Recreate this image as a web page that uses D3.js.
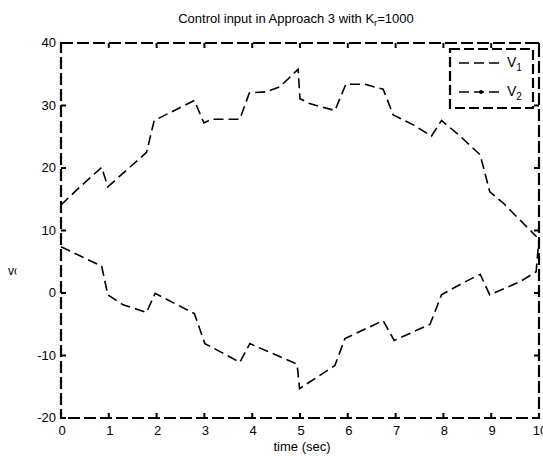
<!DOCTYPE html>
<html>
<head>
<meta charset="utf-8">
<script src="https://d3js.org/d3.v7.min.js"></script>
<style>
  body { margin: 0; background: #fff; }
  text { font-family: "Liberation Sans", Arial, sans-serif; fill: #000; }
</style>
</head>
<body>
<script>
    // upper curve V1
    let v1Time = [0, 0.4, 0.85, 0.98, 1.79, 1.95, 2.79, 2.99, 3.15, 3.74, 3.94, 4.3, 4.58, 4.96, 5.0, 5.2, 5.73, 5.96, 6.36, 6.74, 6.95, 7.37, 7.75, 7.96, 8.35, 8.77, 8.97, 9.25, 9.95];
    let v1Value = [14.1, 17.0, 20.1, 17.0, 22.5, 27.6, 30.8, 27.2, 27.8, 27.8, 32.0, 32.2, 33.0, 35.8, 31.1, 30.3, 29.2, 33.4, 33.4, 32.6, 28.5, 26.9, 25.1, 27.6, 25.1, 22.1, 16.2, 14.4, 9.0];
    // lower curve V2
    let v2Time = [0, 0.85, 0.98, 1.3, 1.79, 1.97, 2.79, 3.01, 3.26, 3.74, 3.95, 4.94, 4.99, 5.73, 5.94, 6.74, 6.97, 7.72, 7.96, 8.38, 8.77, 8.97, 9.6, 9.94, 10];
    let v2Value = [7.4, 4.3, -0.3, -1.9, -3.1, -0.05, -3.3, -8.1, -9.1, -11.1, -8.1, -11.4, -15.3, -11.6, -7.3, -4.4, -7.6, -5.0, -0.3, 1.5, 3.0, -0.3, 1.8, 3.4, 8.8];

    let xTicks = [0, 1, 2, 3, 4, 5, 6, 7, 8, 9, 10];
    let yTicks = [-20, -10, 0, 10, 20, 30, 40];
    let legendNames = ["1", "2"];

    let width = 543, height = 456;
    let plotLeft = 61, plotRight = 539, plotTop = 43, plotBottom = 418;

    let svg = d3.select("body").append("svg")
        .attr("width", width)
        .attr("height", height);

    let x = d3.scaleLinear().domain([0, 10]).range([plotLeft, plotRight]);
    let y = d3.scaleLinear().domain([-20, 40]).range([plotBottom, plotTop]);

    // title
    let title = svg.append("text")
        .attr("x", 296).attr("y", 23)
        .attr("text-anchor", "middle")
        .style("font-size", "13px");
    title.append("tspan").text("Control input in Approach 3 with K");
    title.append("tspan").attr("dy", 3).style("font-size", "9.5px").text("r");
    title.append("tspan").attr("dy", -3).text("=1000");

    // ticks pointing inward on all four sides
    let tickLen = 5;
    let tickG = svg.append("g").attr("stroke", "#000").attr("stroke-width", 2);
    xTicks.forEach(function (t) {
        tickG.append("line").attr("x1", x(t)).attr("x2", x(t)).attr("y1", plotBottom).attr("y2", plotBottom - tickLen);
        tickG.append("line").attr("x1", x(t)).attr("x2", x(t)).attr("y1", plotTop).attr("y2", plotTop + tickLen);
    });
    yTicks.forEach(function (t) {
        tickG.append("line").attr("x1", plotLeft).attr("x2", plotLeft + tickLen).attr("y1", y(t)).attr("y2", y(t));
        tickG.append("line").attr("x1", plotRight).attr("x2", plotRight - tickLen).attr("y1", y(t)).attr("y2", y(t));
    });

    // tick labels
    svg.selectAll(".xlab").data(xTicks).enter().append("text")
        .attr("x", function (d) { return x(d) + 1; })
        .attr("y", 435)
        .attr("text-anchor", "middle")
        .style("font-size", "13px")
        .text(function (d) { return d; });
    svg.selectAll(".ylab").data(yTicks).enter().append("text")
        .attr("x", plotLeft - 5)
        .attr("y", function (d) { return y(d) + 4; })
        .attr("text-anchor", "end")
        .style("font-size", "13px")
        .text(function (d) { return d; });

    // axis labels
    svg.append("text").attr("x", 302).attr("y", 451)
        .attr("text-anchor", "middle").style("font-size", "13px")
        .text("time (sec)");
    svg.append("clipPath").attr("id", "ylabclip")
        .append("rect").attr("x", 0).attr("y", 250).attr("width", 16.5).attr("height", 40);
    svg.append("text").attr("x", 8).attr("y", 275)
        .attr("clip-path", "url(#ylabclip)")
        .style("font-size", "12px")
        .text("voltage");

    // data lines
    let line = d3.line()
        .x(function (d) { return x(d[0]); })
        .y(function (d) { return y(d[1]); });

    let v1 = d3.zip(v1Time, v1Value);
    let v2 = d3.zip(v2Time, v2Value);

    [v1, v2].forEach(function (data) {
        svg.append("path")
            .attr("d", line(data))
            .attr("fill", "none")
            .attr("stroke", "#000")
            .attr("stroke-width", 1.6)
            .attr("stroke-dasharray", "10,5");
    });

    // axes box
    svg.append("rect")
        .attr("x", plotLeft).attr("y", plotTop)
        .attr("width", plotRight - plotLeft).attr("height", plotBottom - plotTop)
        .attr("fill", "none")
        .attr("stroke", "#000")
        .attr("stroke-width", 2.2)
        .attr("stroke-dasharray", "12,4");

    // legend
    let lg = svg.append("g");
    lg.append("rect")
        .attr("x", 450).attr("y", 49).attr("width", 83).attr("height", 59)
        .attr("fill", "#fff")
        .attr("stroke", "#000")
        .attr("stroke-width", 2.2)
        .attr("stroke-dasharray", "10,4");
    legendNames.forEach(function (name, i) {
        let ly = 63 + i * 29;
        lg.append("line")
            .attr("x1", 459).attr("x2", 502).attr("y1", ly).attr("y2", ly)
            .attr("stroke", "#000").attr("stroke-width", 1.6)
            .attr("stroke-dasharray", "10,5");
        if (i == 1) {
            lg.append("circle").attr("cx", 481).attr("cy", ly).attr("r", 2).attr("fill", "#000");
        }
        let t = lg.append("text").attr("x", 507).attr("y", ly + 4).style("font-size", "14px");
        t.append("tspan").text("V");
        t.append("tspan").attr("dy", 4).style("font-size", "10px").text(name);
    });
</script>
</body>
</html>
